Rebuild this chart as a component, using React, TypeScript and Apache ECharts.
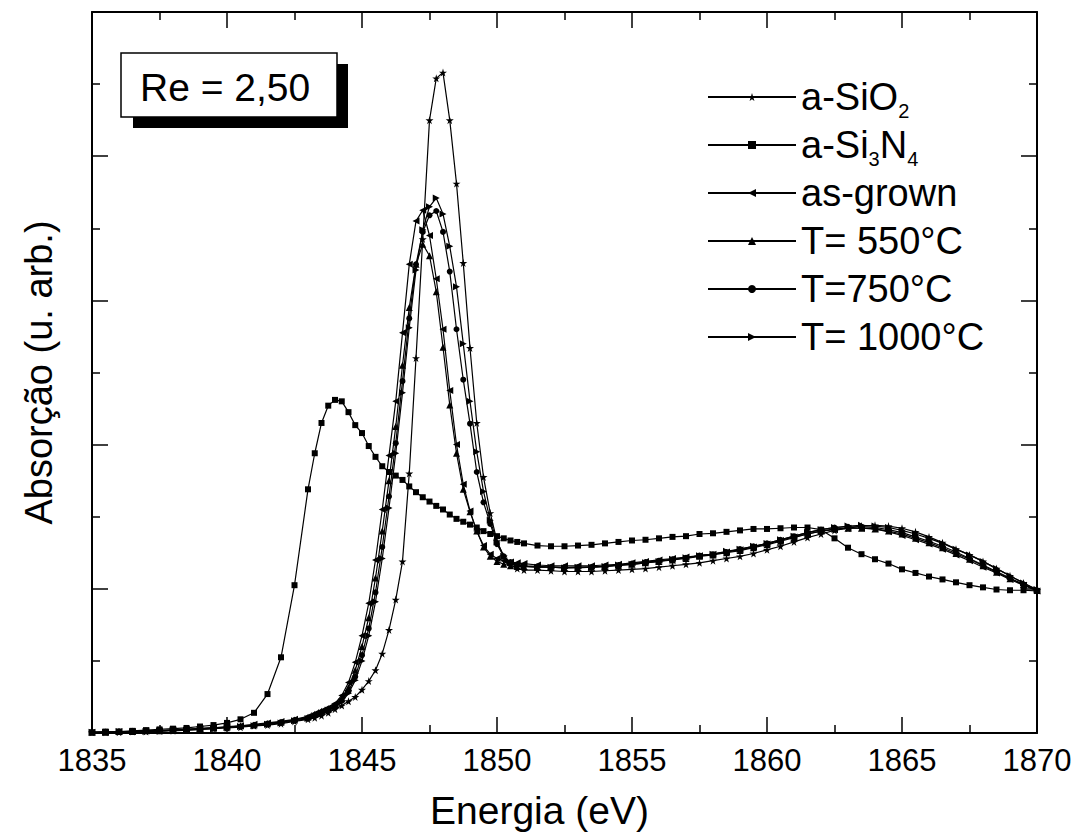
import React, { useEffect, useRef } from 'react';
import * as echarts from 'echarts';

const FONT = 'Liberation Sans, Arial, sans-serif';

// Energy grid (eV)
const energies = [
  1835, 1835.5, 1836, 1836.5, 1837, 1837.5, 1838, 1838.5, 1839, 1839.5, 1840, 1840.5, 1841, 1841.5, 1842, 1842.5, 1843,
  1843.25, 1843.5, 1843.75, 1844, 1844.25, 1844.5, 1844.75, 1845, 1845.25, 1845.5, 1845.75, 1846, 1846.25, 1846.5, 1846.75,
  1847, 1847.25, 1847.5, 1847.75, 1848, 1848.25, 1848.5, 1848.75, 1849, 1849.25, 1849.5, 1849.75, 1850, 1850.25, 1850.5, 1850.75, 1851,
  1851.5, 1852, 1852.5, 1853, 1853.5, 1854, 1854.5, 1855, 1855.5, 1856, 1856.5, 1857, 1857.5, 1858, 1858.5, 1859, 1859.5, 1860,
  1860.5, 1861, 1861.5, 1862, 1862.5, 1863, 1863.5, 1864, 1864.5, 1865, 1865.5, 1866, 1866.5, 1867, 1867.5, 1868, 1868.5, 1869, 1869.5, 1870,
];

const sio2 = [
  0.01, 0.01, 0.01, 0.02, 0.02, 0.03, 0.03, 0.04, 0.05, 0.06, 0.07, 0.08, 0.1, 0.11, 0.13, 0.16, 0.19,
  0.21, 0.24, 0.28, 0.33, 0.38, 0.44, 0.5, 0.6, 0.72, 0.87, 1.1, 1.43, 1.85, 2.38, 3.6,
  5.2, 6.85, 8.5, 9.08, 9.16, 8.5, 7.62, 6.52, 5.34, 4.3, 3.55, 3.05, 2.66, 2.45, 2.33, 2.28, 2.26,
  2.26, 2.25, 2.24, 2.24, 2.24, 2.25, 2.26, 2.27, 2.28, 2.3, 2.32, 2.34, 2.36, 2.39, 2.42, 2.45, 2.49, 2.54,
  2.59, 2.65, 2.71, 2.76, 2.81, 2.84, 2.87, 2.88, 2.87, 2.84, 2.79, 2.72, 2.64, 2.55, 2.47, 2.38, 2.28, 2.18, 2.08, 1.98,
];

const si3n4 = [
  0.01, 0.02, 0.02, 0.03, 0.04, 0.05, 0.06, 0.07, 0.09, 0.11, 0.14, 0.19, 0.28, 0.54, 1.05, 2.05, 3.38,
  3.88, 4.3, 4.54, 4.62, 4.6, 4.45, 4.27, 4.16, 3.98, 3.83, 3.7, 3.62, 3.57, 3.51, 3.42,
  3.34, 3.27, 3.21, 3.15, 3.1, 3.03, 2.97, 2.93, 2.89, 2.85, 2.8, 2.76, 2.73, 2.7, 2.67, 2.65, 2.63,
  2.6, 2.59, 2.59, 2.6, 2.61, 2.63, 2.65, 2.67, 2.68, 2.7, 2.72, 2.73, 2.76, 2.77, 2.79, 2.81, 2.83, 2.83,
  2.84, 2.85, 2.85, 2.82, 2.7, 2.57, 2.48, 2.41, 2.35, 2.27, 2.22, 2.17, 2.13, 2.09, 2.05, 2.02, 1.99, 1.98, 1.98, 1.97,
];

const asGrown = [
  0.01, 0.01, 0.02, 0.02, 0.03, 0.03, 0.04, 0.05, 0.06, 0.07, 0.09, 0.1, 0.12, 0.14, 0.16, 0.19, 0.23,
  0.27, 0.31, 0.35, 0.41, 0.52, 0.7, 0.98, 1.35, 1.8, 2.4, 3.1, 3.85, 4.6, 5.55, 6.5,
  7.1, 7.25, 6.9, 6.3, 5.6, 4.75, 4.0, 3.45, 3.08, 2.8, 2.6, 2.48, 2.42, 2.39, 2.37, 2.36, 2.35,
  2.33, 2.32, 2.32, 2.32, 2.32, 2.33, 2.34, 2.36, 2.38, 2.4, 2.42, 2.44, 2.46, 2.48, 2.51, 2.54, 2.58, 2.62,
  2.67, 2.72, 2.76, 2.8, 2.82, 2.84, 2.84, 2.83, 2.79, 2.74, 2.68, 2.62, 2.55, 2.47, 2.39, 2.3, 2.22, 2.13, 2.05, 1.97,
];

const t550 = [
  0.01, 0.01, 0.02, 0.02, 0.03, 0.03, 0.04, 0.05, 0.06, 0.07, 0.08, 0.1, 0.11, 0.13, 0.15, 0.18, 0.22,
  0.26, 0.3, 0.34, 0.38, 0.48, 0.63, 0.87, 1.2, 1.6, 2.15, 2.8, 3.5, 4.25, 5.1, 5.9,
  6.5, 6.78, 6.62, 6.12, 5.35, 4.55, 3.88, 3.38, 3.07, 2.8, 2.58, 2.45, 2.38, 2.34, 2.32, 2.31, 2.31,
  2.3, 2.3, 2.29, 2.29, 2.3, 2.31, 2.32, 2.34, 2.36, 2.38, 2.4, 2.42, 2.45, 2.47, 2.5, 2.53, 2.57, 2.61,
  2.66, 2.71, 2.76, 2.8, 2.83, 2.84, 2.84, 2.83, 2.8, 2.76, 2.7, 2.64, 2.57, 2.49, 2.41, 2.32, 2.23, 2.14, 2.06, 1.98,
];

const t750 = [
  0.01, 0.01, 0.02, 0.02, 0.03, 0.03, 0.04, 0.05, 0.06, 0.07, 0.08, 0.09, 0.11, 0.13, 0.15, 0.18, 0.21,
  0.25, 0.29, 0.33, 0.37, 0.45, 0.58, 0.78, 1.08, 1.45, 1.95, 2.58, 3.28, 4.02, 4.88, 5.75,
  6.5, 6.95, 7.18, 7.24, 6.95, 6.4, 5.6, 4.9, 4.29, 3.62, 3.2, 2.9, 2.62, 2.45, 2.37, 2.33, 2.32,
  2.31, 2.3, 2.3, 2.3, 2.3, 2.31, 2.33, 2.35, 2.37, 2.39, 2.41, 2.43, 2.46, 2.48, 2.51, 2.55, 2.59, 2.63,
  2.68, 2.73, 2.78, 2.82, 2.85, 2.86, 2.86, 2.85, 2.82, 2.78, 2.72, 2.66, 2.59, 2.51, 2.42, 2.33, 2.24, 2.15, 2.06, 1.98,
];

const t1000 = [
  0.01, 0.01, 0.02, 0.02, 0.02, 0.03, 0.04, 0.04, 0.05, 0.06, 0.08, 0.09, 0.1, 0.12, 0.14, 0.17, 0.2,
  0.24, 0.28, 0.32, 0.36, 0.43, 0.55, 0.73, 1.0, 1.35, 1.82, 2.42, 3.12, 3.88, 4.72, 5.62,
  6.42, 6.98, 7.3, 7.42, 7.2, 6.75, 6.19, 5.4, 4.6, 3.9, 3.35, 2.95, 2.65, 2.45, 2.36, 2.32, 2.31,
  2.3, 2.3, 2.29, 2.3, 2.3, 2.31, 2.33, 2.34, 2.36, 2.38, 2.41, 2.43, 2.46, 2.48, 2.52, 2.55, 2.59, 2.63,
  2.68, 2.73, 2.78, 2.82, 2.85, 2.87, 2.88, 2.87, 2.85, 2.81, 2.76, 2.7, 2.63, 2.55, 2.47, 2.38, 2.28, 2.18, 2.08, 1.99,
];

const seriesNames = ['a-SiO2', 'a-Si3N4', 'as-grown', 'T= 550°C', 'T=750°C', 'T= 1000°C'];
const seriesValues = [sio2, si3n4, asGrown, t550, t750, t1000];

const STAR = 'path://M50,0 L61,35 L98,35 L68,57 L79,91 L50,70 L21,91 L32,57 L2,35 L39,35 Z';
const symbols = [STAR, 'rect', 'triangle', 'triangle', 'circle', 'triangle'];
const symbolRotates = [0, 0, 90, 0, 0, -90];
const symbolSizes = [8, 6, 7, 7, 6, 7];

const legendLabels: Record<string, string> = {
  'a-SiO2': '{m|a-SiO}{s|2}',
  'a-Si3N4': '{m|a-Si}{s|3}{m|N}{s|4}',
};

export default function App() {
  const ref = useRef<HTMLDivElement>(null);

  useEffect(() => {
    const chart = echarts.init(ref.current!, null, { renderer: 'svg' });

    const axisCommon = {
      type: 'value' as const,
      axisLine: { show: true, onZero: false, lineStyle: { color: '#000', width: 2 } },
      axisTick: { show: true, inside: true, length: 16, lineStyle: { color: '#000', width: 1.5 } },
      minorTick: { show: true, splitNumber: 2, length: 8, lineStyle: { color: '#000', width: 1.5 } },
      splitLine: { show: false },
      minorSplitLine: { show: false },
    };

    const series = seriesNames.map((name, i) => ({
      name,
      type: 'line',
      data: energies.map((e, k) => [e, seriesValues[i][k]]),
      symbol: symbols[i],
      symbolSize: symbolSizes[i],
      symbolRotate: symbolRotates[i],
      showSymbol: true,
      showAllSymbol: true,
      lineStyle: { color: '#000', width: 1.2 },
      itemStyle: { color: '#000' },
      emphasis: { disabled: true },
      z: 2,
    }));

    chart.setOption({
      animation: false,
      backgroundColor: '#fff',
      grid: { left: 92, right: 45, top: 12, bottom: 94, containLabel: false },
      xAxis: [
        {
          ...axisCommon,
          position: 'bottom',
          min: 1835,
          max: 1870,
          interval: 5,
          axisLabel: {
            color: '#000',
            fontSize: 31,
            fontFamily: FONT,
            margin: 12,
            formatter: (v: number) => String(v),
          },
          name: 'Energia (eV)',
          nameLocation: 'middle',
          nameGap: 58,
          nameTextStyle: { color: '#000', fontSize: 39, fontFamily: FONT, padding: [0, 50, 0, 0] },
        },
        {
          ...axisCommon,
          position: 'top',
          min: 1835,
          max: 1870,
          interval: 5,
          axisLabel: { show: false },
        },
      ],
      yAxis: [
        {
          ...axisCommon,
          position: 'left',
          min: 0,
          max: 10,
          interval: 2,
          axisLabel: { show: false },
          name: 'Absorção (u. arb.)',
          nameLocation: 'middle',
          nameGap: 34,
          nameTextStyle: { color: '#000', fontSize: 38, fontFamily: FONT },
        },
        {
          ...axisCommon,
          position: 'right',
          min: 0,
          max: 10,
          interval: 2,
          axisLabel: { show: false },
        },
      ],
      legend: {
        data: seriesNames,
        orient: 'vertical',
        left: 707,
        top: 73,
        padding: 0,
        itemGap: 0,
        itemWidth: 88,
        itemHeight: 10,
        selectedMode: false,
        formatter: (name: string) => legendLabels[name] || `{m|${name}}`,
        textStyle: {
          color: '#000',
          fontFamily: FONT,
          fontSize: 38,
          lineHeight: 48,
          height: 48,
          rich: {
            m: { color: '#000', fontFamily: FONT, fontSize: 38, lineHeight: 48, height: 48 },
            s: { color: '#000', fontFamily: FONT, fontSize: 20, lineHeight: 8, verticalAlign: 'bottom' },
          },
        },
      },
      graphic: [
        {
          type: 'rect',
          shape: { x: 133, y: 64, width: 215, height: 64 },
          style: { fill: '#000' },
          z: 10,
        },
        {
          type: 'rect',
          shape: { x: 121, y: 53, width: 216, height: 64 },
          style: { fill: '#fff', stroke: '#000', lineWidth: 1.5 },
          z: 11,
        },
        {
          type: 'text',
          x: 140,
          y: 87,
          style: {
            text: 'Re = 2,50',
            fill: '#000',
            fontSize: 39,
            fontFamily: FONT,
            verticalAlign: 'middle',
            align: 'left',
          },
          z: 12,
        },
      ],
      series,
    });

    return () => chart.dispose();
  }, []);

  return (
    <div
      ref={ref}
      style={{ position: 'fixed', left: 0, top: 0, width: 1082, height: 835, background: '#fff' }}
    />
  );
}
